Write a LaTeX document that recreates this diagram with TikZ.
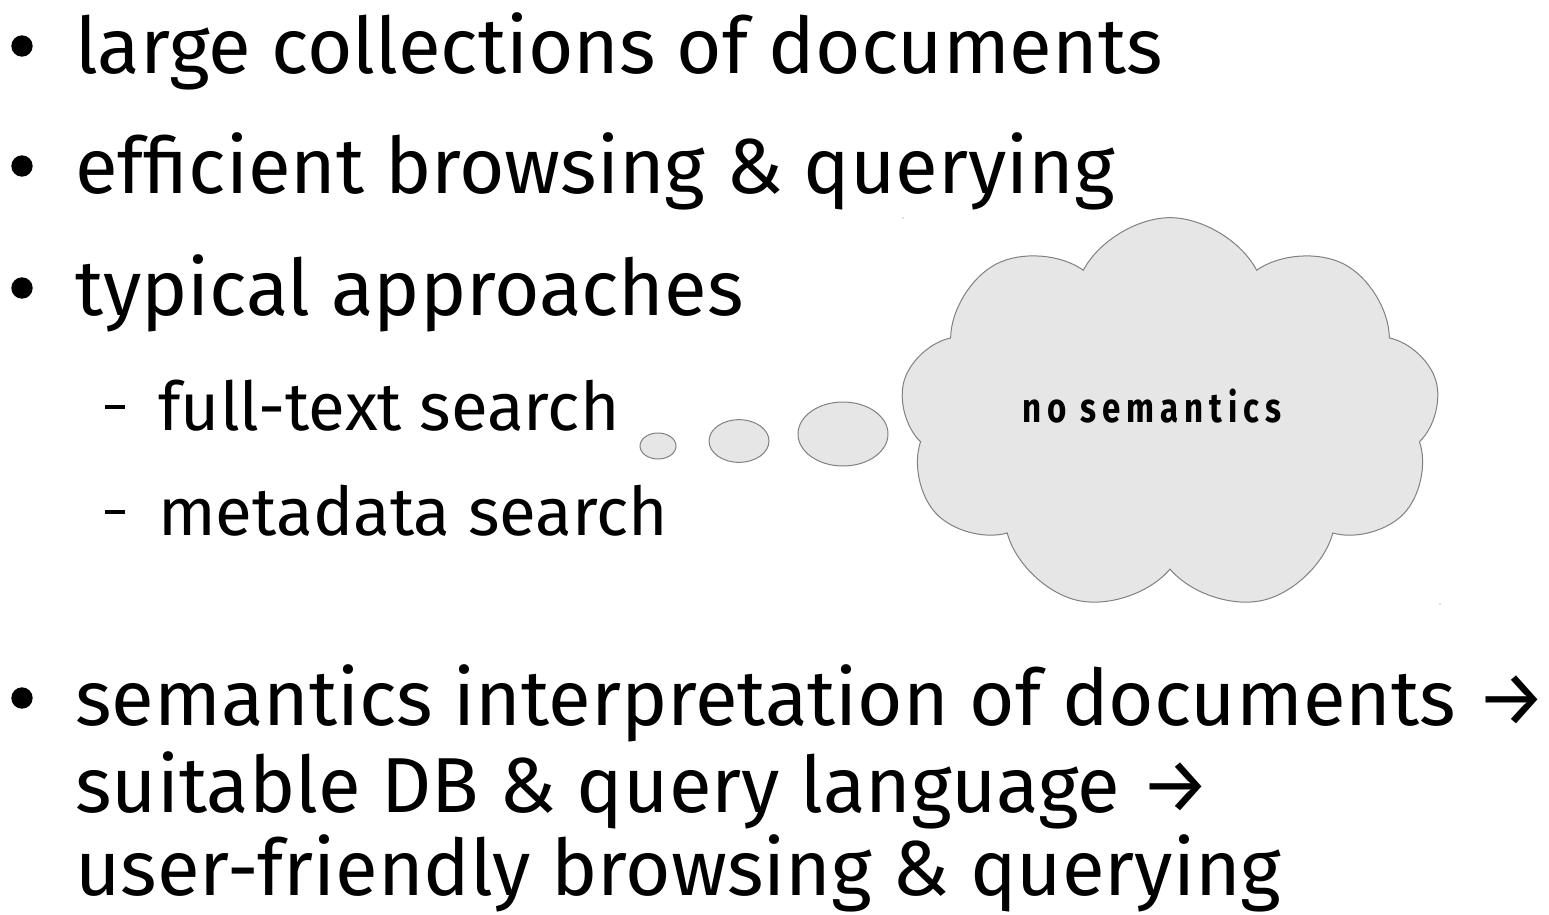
\documentclass[tikz,border=0pt]{standalone}
\usepackage{fontspec}
\setmainfont{Fira Sans}
\usetikzlibrary{shapes.symbols}
\definecolor{cloudfill}{HTML}{E6E6E6}
\definecolor{cloudline}{HTML}{808080}
\tikzset{
  bigtxt/.style={anchor=base west, inner sep=0pt, font=\fontsize{58.5}{60}\selectfont},
  subtxt/.style={anchor=base west, inner sep=0pt, font=\fontsize{50.5}{52}\selectfont},
  bulletdot/.style={circle, fill, inner sep=0pt, minimum size=16pt},
  dashmark/.style={anchor=west, inner sep=0pt, fill, minimum width=15pt, minimum height=2.6pt},
  puff/.style={ellipse, draw=cloudline, fill=cloudfill, line width=0.75pt, inner sep=0pt},
}
\usetikzlibrary{shapes.geometric}
\begin{document}
\begin{tikzpicture}[x=0.75pt,y=-0.75pt]
\useasboundingbox (0,0) rectangle (1549,914);
\node[bulletdot] (b1) at (22,46){};
\node[bigtxt] (t1) at (75,73){large collections of documents};
\node[bulletdot] (b2) at (22,166){};
\node[bigtxt] (t2) at (75,193){efficient browsing \& querying};
\node[bulletdot] (b3) at (22,288){};
\node[bigtxt] (t3) at (75,315){typical approaches};
\node[dashmark] (d1) at (105,407){};
\node[subtxt] (s1) at (158,430){full-text search};
\node[dashmark] (d2) at (105,512){};
\node[subtxt] (s2) at (158,535){metadata search};
\node[bulletdot] (b4) at (22,698){};
\node[bigtxt] (t4) at (75,725){semantics interpretation of documents →};
\node[bigtxt] (t5) at (75,812){suitable DB \& query language →};
\node[bigtxt] (t6) at (75,895){user-friendly browsing \& querying};

\node[cloud, cloud puffs=9, cloud puff arc=125, draw=cloudline, fill=cloudfill, line width=0.75pt,
      minimum width=405pt, minimum height=296pt, inner sep=0pt] (cl) at (1170,415){};
\node[font=\fontsize{31}{33}\selectfont\bfseries\addfontfeatures{LetterSpace=18}] (cltxt) at (1152,406){\scalebox{0.8}[1]{no semantics}};
\node[puff, minimum width=27pt, minimum height=19.5pt] (p1) at (658,446){};
\node[puff, minimum width=45pt, minimum height=32pt] (p2) at (739,441){};
\node[puff, minimum width=67.5pt, minimum height=48pt] (p3) at (843,434){};
\node[circle, fill=cloudline, inner sep=0pt, minimum size=1pt] (m1) at (903,218){};
\node[circle, fill=cloudline, inner sep=0pt, minimum size=1pt] (m2) at (1440,604){};
\end{tikzpicture}
\end{document}
